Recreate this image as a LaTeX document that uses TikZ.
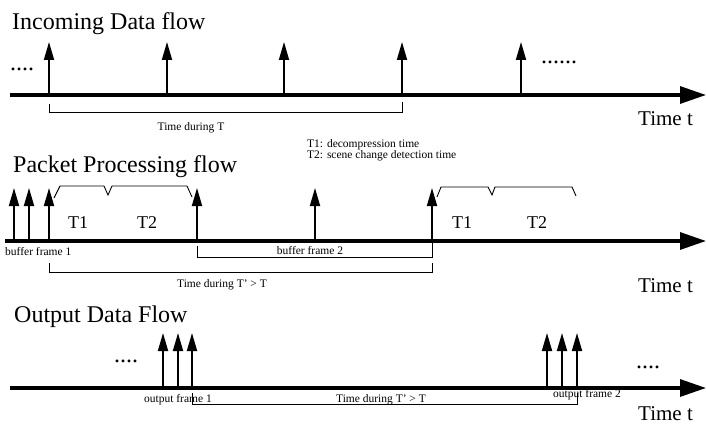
\documentclass[tikz,border=0pt]{standalone}
\usepackage{fontspec}
\setmainfont{Liberation Serif}
\usetikzlibrary{arrows.meta}
\begin{document}
\begin{tikzpicture}[x=1pt,y=-1pt,
  axisline/.style={line width=3.2pt,-{Triangle[length=26pt,width=17pt]}},
  pulse/.style={line width=1.8pt,-{Triangle[length=18pt,width=10pt]}},
  bracket/.style={line width=0.9pt},
  brace/.style={line width=0.9pt,line join=miter},
  title/.style={font=\fontsize{24}{28}\selectfont,anchor=base west,inner sep=0},
  timet/.style={font=\fontsize{21}{24}\selectfont,anchor=base west,inner sep=0},
  small/.style={font=\fontsize{11.5}{13}\selectfont,anchor=base,inner sep=0},
  dotsx/.style={font=\fontsize{24}{28}\selectfont,anchor=base west,inner sep=0},
  tlab/.style={font=\fontsize{18}{20}\selectfont,anchor=base,inner sep=0}]
\useasboundingbox (0,0) rectangle (706,425);

% ---------- Panel 1 ----------
\node[title] (ttl1) at (12,30) {Incoming Data flow};
\coordinate (a1s) at (10,95);
\coordinate (a1e) at (706,95);
\draw[axisline] (a1s) -- (a1e);
\node[timet] (tt1) at (638,125) {Time t};
\foreach \x [count=\i] in {49,167,284,402,521} {
  \coordinate (p1b\i) at (\x,95);
  \coordinate (p1t\i) at (\x,42);
  \draw[pulse] (p1b\i) -- (p1t\i);
}
\node[dotsx] (d1l) at (10,71) {....};
\node[dotsx] (d1r) at (541,64) {......};
\coordinate (b1a) at (49,104);
\coordinate (b1b) at (49,112);
\coordinate (b1c) at (402,112);
\coordinate (b1d) at (402,102);
\draw[bracket] (b1a) -- (b1b) -- (b1c) -- (b1d);
\node[small] (l1) at (191,130) {Time during T};
\node[small,anchor=base west] (leg1) at (307,147) {T1: decompression time};
\node[small,anchor=base west] (leg2) at (307,158) {T2: scene change detection time};

% ---------- Panel 2 ----------
\node[title] (ttl2) at (13,172) {Packet Processing flow};
\coordinate (a2s) at (5,241);
\coordinate (a2e) at (706,241);
\draw[axisline] (a2s) -- (a2e);
\node[timet] (tt2) at (638,292) {Time t};
\foreach \x [count=\i] in {14,29,49,197,315,432} {
  \coordinate (p2b\i) at (\x,241);
  \coordinate (p2t\i) at (\x,188);
  \draw[pulse] (p2b\i) -- (p2t\i);
}
% braces
\coordinate (ba1) at (54,198);
\coordinate (ba2) at (60,186);
\coordinate (ba3) at (104,186);
\coordinate (ba4) at (108,195);
\coordinate (ba5) at (112,186);
\coordinate (ba6) at (187,186);
\coordinate (ba7) at (192,197);
\draw[brace] (ba1) -- (ba2) -- (ba3) -- (ba4) -- (ba5) -- (ba6) -- (ba7);
\coordinate (bb1) at (437,197);
\coordinate (bb2) at (441,187);
\coordinate (bb3) at (488,187);
\coordinate (bb4) at (492,195);
\coordinate (bb5) at (495,187);
\coordinate (bb6) at (572,187);
\coordinate (bb7) at (576,196);
\draw[brace] (bb1) -- (bb2) -- (bb3) -- (bb4) -- (bb5) -- (bb6) -- (bb7);
\node[tlab] (T1a) at (78,228) {T1};
\node[tlab] (T2a) at (147,228) {T2};
\node[tlab] (T1b) at (462,228) {T1};
\node[tlab] (T2b) at (537,228) {T2};
\node[small,anchor=base west] (bf1) at (5,255) {buffer frame 1};
\coordinate (c2a) at (197,246);
\coordinate (c2b) at (197,257);
\coordinate (c2c) at (432,257);
\coordinate (c2d) at (432,243);
\draw[bracket] (c2a) -- (c2b) -- (c2c) -- (c2d);
\node[small] (bf2) at (310,254) {buffer frame 2};
\coordinate (e2a) at (49,263);
\coordinate (e2b) at (49,272);
\coordinate (e2c) at (432,272);
\coordinate (e2d) at (432,263);
\draw[bracket] (e2a) -- (e2b) -- (e2c) -- (e2d);
\node[small] (l2) at (222,287) {Time during T' > T};

% ---------- Panel 3 ----------
\node[title] (ttl3) at (14,322) {Output Data Flow};
\coordinate (a3s) at (10,388);
\coordinate (a3e) at (706,388);
\draw[axisline] (a3s) -- (a3e);
\node[timet] (tt3) at (638,420) {Time t};
\foreach \x [count=\i] in {163,178,192,547,562,577} {
  \coordinate (p3b\i) at (\x,388);
  \coordinate (p3t\i) at (\x,333);
  \draw[pulse] (p3b\i) -- (p3t\i);
}
\node[dotsx] (d3l) at (114,362) {....};
\node[dotsx] (d3r) at (636,368) {....};
\node[small] (of1) at (178,402) {output frame 1};
\node[small] (of2) at (587,397) {output frame 2};
\coordinate (f3a) at (192,393);
\coordinate (f3b) at (192,404);
\coordinate (f3c) at (577,404);
\coordinate (f3d) at (577,393);
\draw[bracket] (f3a) -- (f3b) -- (f3c) -- (f3d);
\node[small] (l3) at (381,402) {Time during T' > T};
\end{tikzpicture}
\end{document}
